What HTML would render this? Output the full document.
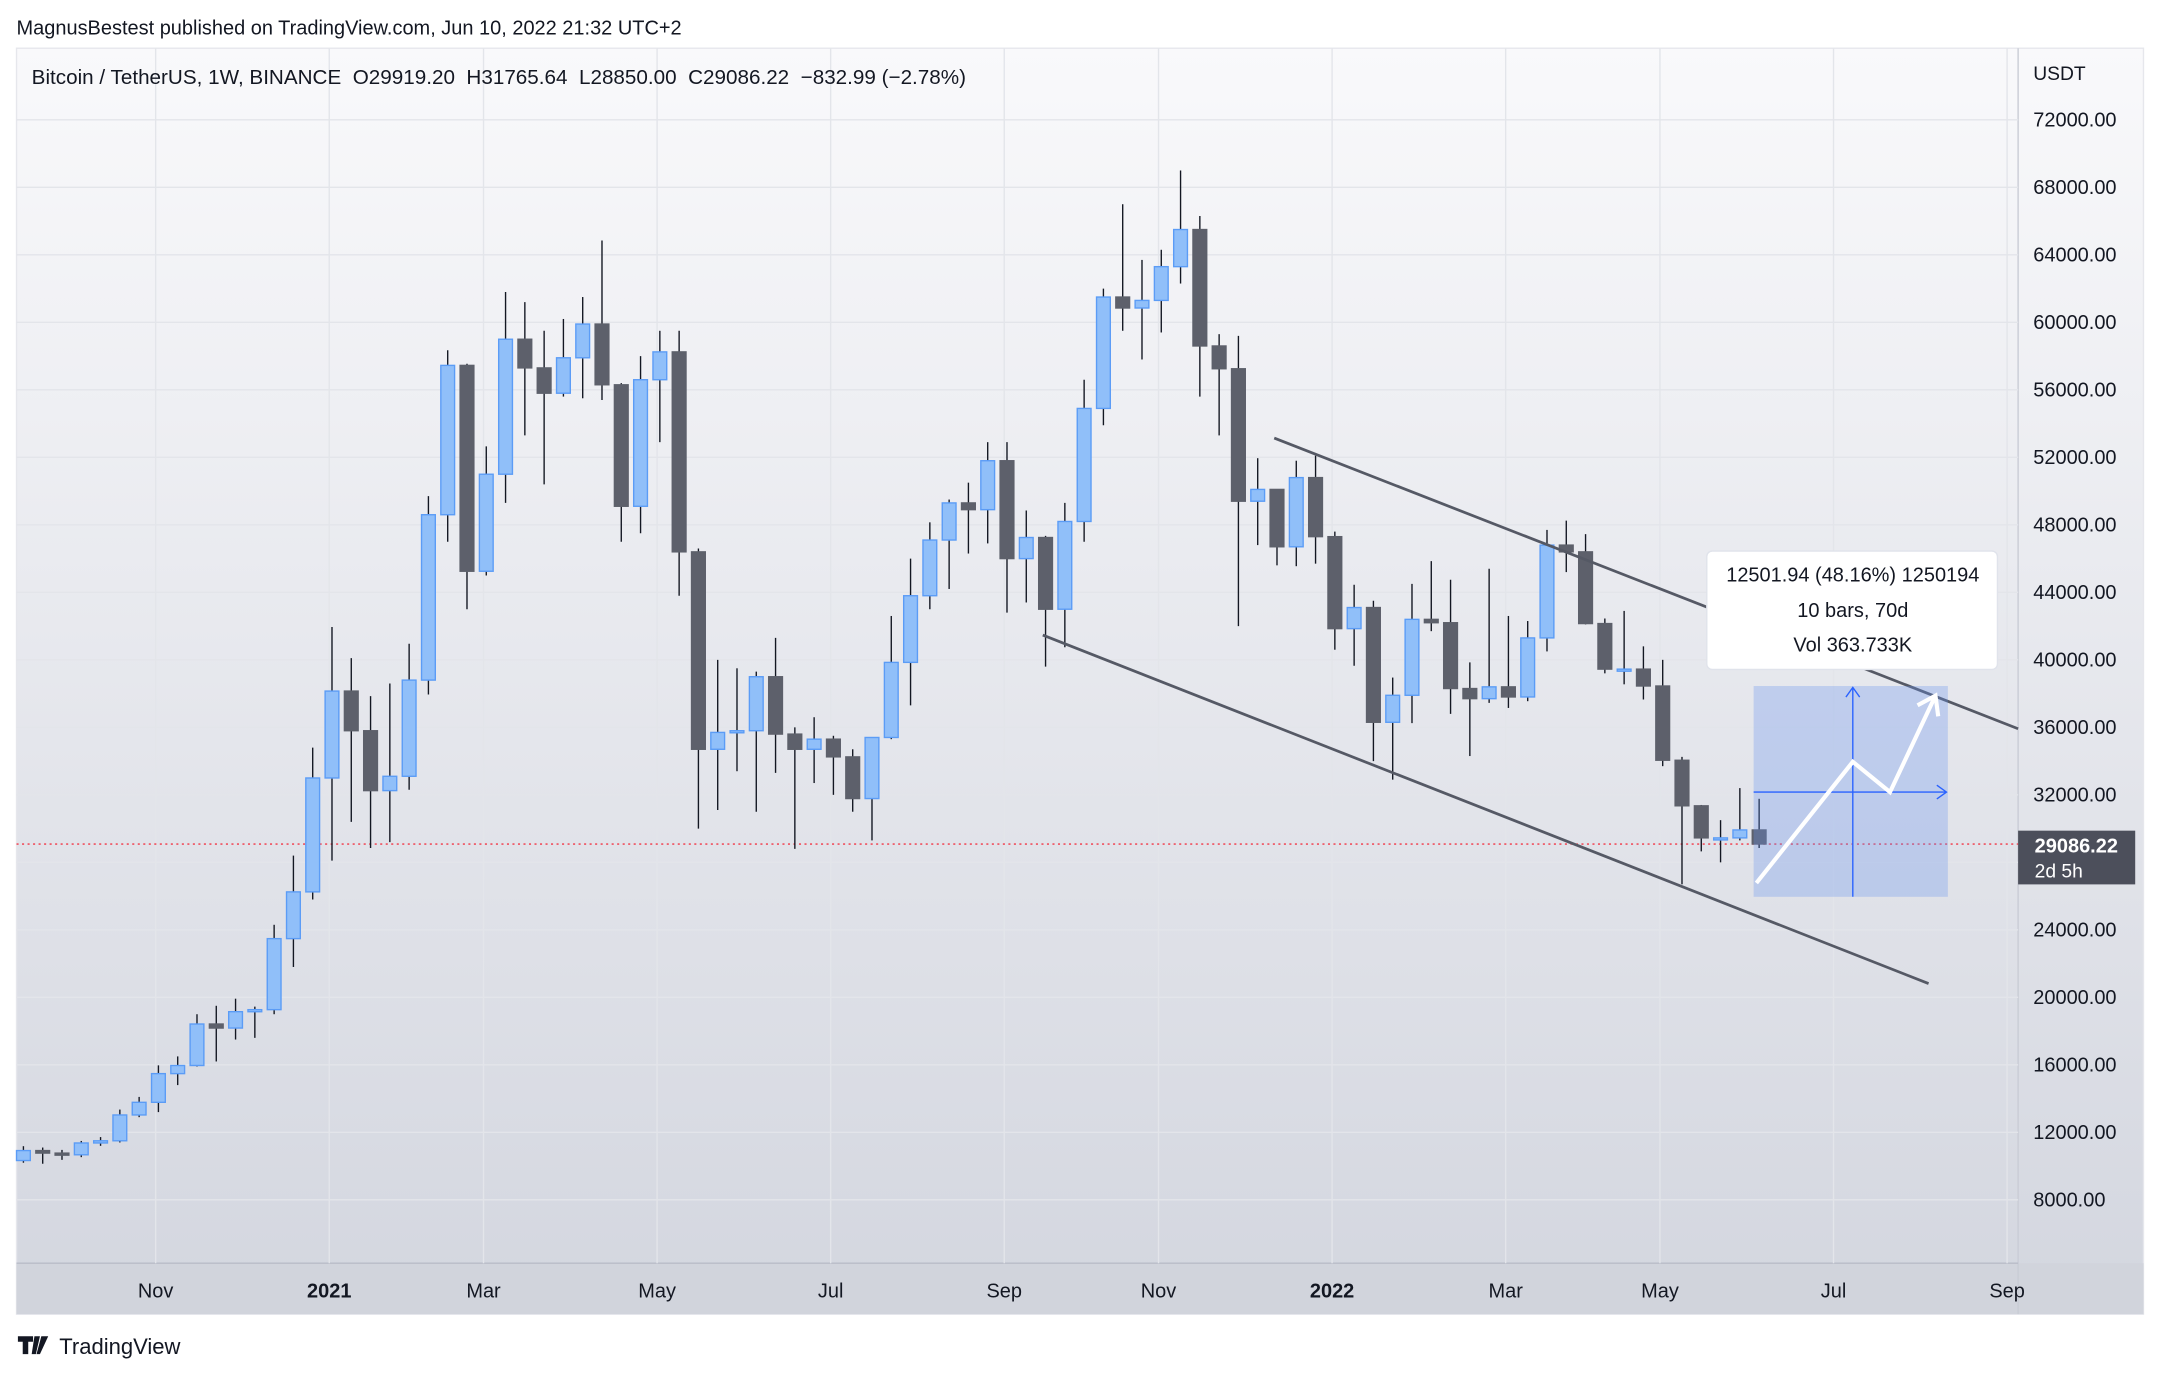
<!DOCTYPE html>
<html><head><meta charset="utf-8">
<style>
html,body{margin:0;padding:0;background:#fff;}
svg{display:block;font-family:"Liberation Sans",sans-serif;}
</style></head>
<body>
<svg id="chart" width="2160" height="1377" viewBox="0 0 1568 999.6" xmlns="http://www.w3.org/2000/svg">
<defs>
<linearGradient id="bg" x1="0" y1="0" x2="0" y2="1">
<stop offset="0" stop-color="#f9f9fb"/><stop offset="1" stop-color="#d3d6df"/>
</linearGradient>
</defs>
<text x="12" y="25" font-size="14.5" fill="#131722">MagnusBestest published on TradingView.com, Jun 10, 2022 21:32 UTC+2</text>
<rect x="12" y="35" width="1544" height="919" fill="url(#bg)" stroke="#e6e7ec"/>
<rect x="12" y="917" width="1544" height="37" fill="#d1d4dc"/>
<line x1="1465" y1="35" x2="1465" y2="954" stroke="#c9ccd5"/>
<line x1="12" y1="917" x2="1465" y2="917" stroke="#b8bcc8"/>
<g id="grid"></g>
<g id="yticks"></g>
<g id="xticks"></g>
<text x="23" y="61" font-size="15" fill="#131722" xml:space="preserve">Bitcoin / TetherUS, 1W, BINANCE  O29919.20  H31765.64  L28850.00  C29086.22  −832.99 (−2.78%)</text>
<text x="1476" y="58" font-size="14" fill="#131722">USDT</text>
<line id="lastline" x1="12" x2="1465" stroke="#f23645" stroke-dasharray="1.5,2.5" stroke-width="1"/>
<g id="candles"></g>
<line x1="925" y1="318" x2="1465" y2="529" stroke="#555965" stroke-width="2"/>
<line x1="757" y1="461" x2="1400" y2="714" stroke="#555965" stroke-width="2"/>
<g>
<rect x="1273" y="498" width="141" height="153" fill="rgba(104,146,240,0.3)"/>
<line x1="1345" y1="651" x2="1345" y2="499" stroke="#2962ff" stroke-width="1"/>
<polyline points="1340,506 1345,499 1350,506" fill="none" stroke="#2962ff"/>
<line x1="1273" y1="575" x2="1413" y2="575" stroke="#2962ff" stroke-width="1"/>
<polyline points="1406,570 1413,575 1406,580" fill="none" stroke="#2962ff"/>
<polyline points="1275,641 1345,553 1372,575 1405,505" fill="none" stroke="#fff" stroke-width="3"/>
<polyline points="1392,512 1405,505 1407,520" fill="none" stroke="#fff" stroke-width="3"/>
</g>
<g>
<rect x="1239" y="400" width="211" height="86" rx="4" fill="#fff" stroke="#e0e3eb"/>
<text x="1345" y="422" font-size="14.5" text-anchor="middle" fill="#131722">12501.94 (48.16%) 1250194</text>
<text x="1345" y="448" font-size="14.5" text-anchor="middle" fill="#131722">10 bars, 70d</text>
<text x="1345" y="473" font-size="14.5" text-anchor="middle" fill="#131722">Vol 363.733K</text>
</g>
<g>
<rect id="badge" x="1465" y="603" width="85" height="39" fill="#4c4f5b"/>
<text x="1477" y="619" font-size="14.5" fill="#fff" font-weight="bold">29086.22</text>
<text x="1477" y="637" font-size="14" fill="#fff">2d 5h</text>
</g>
<g>
<path d="M13 970h11v4h-3.5v9h-4v-9H13z M25 970h4l-3 13h-3z M30 970h5l-6 13h-2.5z" fill="#131722"/>
<text x="43" y="983" font-size="16" fill="#131722">TradingView</text>
</g>
</svg>
<script>
const dates=["2020-09-14"];
const opens=[10330,10920,10770,10670,11370,11500,13030,13780,15480,15960,18420,18180,19150,19270,23480,26250,33000,38150,35800,32250,33100,38800,48600,57450,45250,51000,59000,57300,55800,57900,59900,56300,49100,56600,58250,46400,34700,35700,35800,39000,35600,34700,35300,34250,31780,35400,39850,43800,47100,49300,48900,51800,46000,47250,43000,48200,54900,61500,60850,61300,63300,65500,58600,57250,49400,50100,46700,50800,47300,41850,43100,36300,37900,42400,42200,38300,37700,38400,37800,41300,46800,46400,42150,39450,39450,38450,34050,31350,29450,29450,29920];
const highs=[11180,11100,10960,11490,11720,13350,14100,15970,16500,19000,19500,19920,19450,24300,28400,34800,41950,40100,37850,38600,40955,49700,58350,57550,52650,61800,61200,59500,60200,61500,64850,56400,58000,59500,59500,46600,40000,39500,39300,41300,36000,36600,35500,34700,35400,42600,46000,48150,49500,50500,52900,52900,48850,47350,49300,56600,62000,67000,63700,64300,69000,66300,59300,59200,51950,50100,51800,52100,47600,44450,43500,38950,44500,45850,44750,39850,45400,42600,42300,47700,48250,47450,42450,42900,40800,40000,34250,31400,30500,32400,31766];
const lows=[10200,10140,10370,10530,11200,11400,12900,13200,14800,15900,16200,17500,17600,19000,21800,25800,28100,30400,28850,29200,32300,37950,47000,43000,45000,49300,53300,50400,55600,55500,55400,47000,47500,52900,43800,30000,31100,33400,31000,33300,28800,32700,32000,31000,29300,35300,37300,43000,44200,46300,46900,42800,43400,39600,40750,47000,53900,59500,57800,59400,62300,55600,53300,42000,46800,45600,45550,45700,40600,39650,34000,32900,36250,41700,36800,34300,37450,37150,37550,40500,45200,42100,39200,38550,37650,33700,26700,28650,28000,29300,28850];
const closes=[10920,10770,10670,11370,11500,13030,13780,15480,15960,18420,18180,19150,19270,23480,26250,33000,38150,35800,32250,33100,38800,48600,57450,45250,51000,59000,57300,55800,57900,59900,56300,49100,56600,58250,46400,34700,35700,35800,39000,35600,34700,35300,34250,31780,35400,39850,43800,47100,49300,48900,51800,46000,47250,43000,48200,54900,61500,60850,61300,63300,65500,58600,57250,49400,50100,46700,50800,47300,41850,43100,36300,37900,42400,42200,38300,37700,38400,37800,41300,46800,46400,42150,39450,39450,38450,34050,31350,29450,29450,29920,29086];
const priceTicks=[72000,68000,64000,60000,56000,52000,48000,44000,40000,36000,32000,28000,24000,20000,16000,12000,8000];
const timeLabels=["Nov","2021","Mar","May","Jul","Sep","Nov","2022","Mar","May","Jul","Sep"];
const timeLabelWeeks=[7,16,24,33,42,51,59,68,77,85,94,103];
const lastPrice=29086.22;

const NS="http://www.w3.org/2000/svg";
function y(p){return 87+(72000-p)*0.01225;}
function x(i){return 17+i*14;}
function mk(tag,attrs,parent){const e=document.createElementNS(NS,tag);for(const k in attrs)e.setAttribute(k,attrs[k]);parent.appendChild(e);return e;}
const grid=document.getElementById('grid'),yt=document.getElementById('yticks'),xt=document.getElementById('xticks'),cg=document.getElementById('candles');
priceTicks.forEach(p=>{
  const l=mk('line',{x1:12,x2:1465,y1:y(p),y2:y(p),stroke:'#e3e5ea','stroke-width':1},grid);
  
  
  const t=mk('text',{x:1476,y:y(p)+5,'font-size':14.5,fill:'#131722'},yt);
  t.textContent=p.toFixed(2);
  
  
});
timeLabels.forEach((lab,k)=>{
  const xx=x(timeLabelWeeks[k])-2;
  if(xx<1465){
    const l=mk('line',{x1:xx,x2:xx,y1:35,y2:917,stroke:'#e3e5ea','stroke-width':1},grid);
    
    
  }
  const bold=/^\d+$/.test(lab);
  const t=mk('text',{x:xx,y:942,'font-size':14.5,'text-anchor':'middle',fill:'#131722','font-weight':bold?'bold':'normal'},xt);
  t.textContent=lab;
  
  
});
const ll=document.getElementById('lastline');ll.setAttribute('y1',y(lastPrice));ll.setAttribute('y2',y(lastPrice));
opens.forEach((o,i)=>{
  const c=closes[i],up=c>=o,cx=x(i);
  const w=mk('line',{x1:cx,x2:cx,y1:y(highs[i]),y2:y(lows[i]),stroke:'#131722','stroke-width':1},cg);
  
  
  const top=y(Math.max(o,c)),h=Math.max(1.5,Math.abs(y(o)-y(c)));
  const r=mk('rect',{x:cx-5,y:top,width:10,height:h,fill:up?'#90bff9':'#5d606b',stroke:up?'#5b9cf6':'#5d606b','stroke-width':1},cg);
  
  
});
</script>
</body></html>
